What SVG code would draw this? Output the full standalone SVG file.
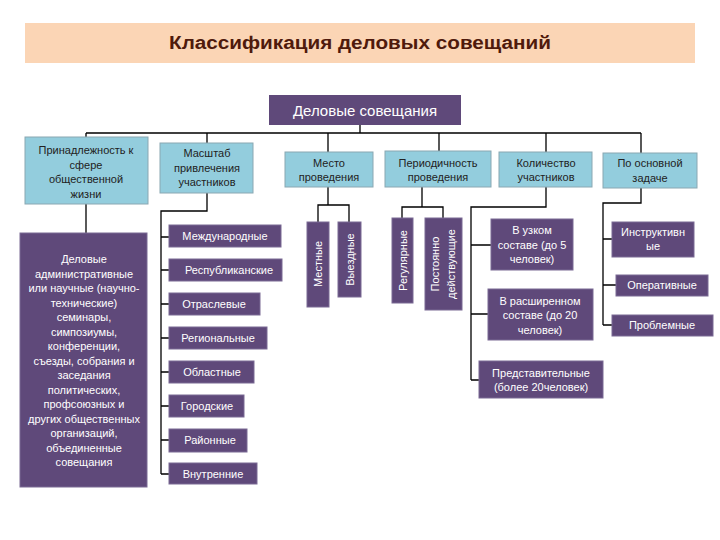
<svg xmlns="http://www.w3.org/2000/svg" width="720" height="540" viewBox="0 0 720 540">
<style>
.cat{fill:#93cddd;stroke:#8aa7b2;stroke-width:1}
.pur{fill:#5f497a;stroke:#7a6a94;stroke-width:1}
.ct{font-family:"Liberation Sans",Arial,sans-serif;font-size:11px;fill:#222;text-anchor:middle}
.pt{font-family:"Liberation Sans",Arial,sans-serif;font-size:11px;fill:#ffffff;text-anchor:middle}
.ln{stroke:#000;stroke-width:1.3;fill:none}
</style>
<rect width="720" height="540" fill="#ffffff"/>
<g id="title">
<rect x="25" y="23" width="670" height="40" fill="#fbd5b5"/>
<text x="360" y="49" font-family="Liberation Sans,Arial,sans-serif" font-size="18" font-weight="bold" fill="#4f1a0c" text-anchor="middle" textLength="382" lengthAdjust="spacingAndGlyphs">Классификация деловых совещаний</text>
</g>
<g id="connectors">
<path class="ln" d="M360 125V133M86 133H641M86 133V137M207 133V143M328 133V152M439 133V151M546 133V152M641 133V153"/>
<path class="ln" d="M86 204V233"/>
<path class="ln" d="M207 193V211H161V474M161 237H169M161 270H169M161 304H169M161 338H169M161 372H169M161 406H169M161 440H169M161 474H169"/>
<path class="ln" d="M328 187V205M318 222V205H349V222"/>
<path class="ln" d="M422 187V207M402 218V207H443V218"/>
<path class="ln" d="M546 187V207H471V380M471 245H491M471 314H488M471 380H479"/>
<path class="ln" d="M641 188V203H603V325M603 239H612M603 285H616M603 325H612"/>
</g>
<g id="root">
<rect x="269" y="95" width="192" height="30" fill="#5f497a"/>
<text x="365" y="116" font-family="Liberation Sans,Arial,sans-serif" font-size="15" fill="#ffffff" text-anchor="middle">Деловые совещания</text>
</g>
<g id="cat1">
<rect class="cat" x="25" y="137" width="123" height="67"/>
<text class="ct" x="86" y="154">Принадлежность к</text>
<text class="ct" x="86" y="168.5">сфере</text>
<text class="ct" x="86" y="183">общественной</text>
<text class="ct" x="86" y="197.5">жизни</text>
</g>
<g id="cat2">
<rect class="cat" x="160" y="143" width="93" height="50"/>
<text class="ct" x="207" y="157">Масштаб</text>
<text class="ct" x="207" y="171.5">привлечения</text>
<text class="ct" x="207" y="186">участников</text>
</g>
<g id="cat3">
<rect class="cat" x="285" y="152" width="88" height="35"/>
<text class="ct" x="329" y="167">Место</text>
<text class="ct" x="329" y="181">проведения</text>
</g>
<g id="cat4">
<rect class="cat" x="385" y="151" width="106" height="36"/>
<text class="ct" x="438" y="167">Периодичность</text>
<text class="ct" x="438" y="181">проведения</text>
</g>
<g id="cat5">
<rect class="cat" x="499" y="152" width="93" height="35"/>
<text class="ct" x="546" y="167">Количество</text>
<text class="ct" x="546" y="181">участников</text>
</g>
<g id="cat6">
<rect class="cat" x="603" y="153" width="94" height="35"/>
<text class="ct" x="650" y="167">По основной</text>
<text class="ct" x="650" y="182">задаче</text>
</g>
<g id="spheres">
<rect class="pur" x="20" y="233" width="127" height="254"/>
<g class="pt">
<text x="84" y="263">Деловые</text>
<text x="84" y="277.5">административные</text>
<text x="84" y="292">или научные (научно-</text>
<text x="84" y="306.5">технические)</text>
<text x="84" y="321">семинары,</text>
<text x="84" y="335.5">симпозиумы,</text>
<text x="84" y="350">конференции,</text>
<text x="84" y="364.5">съезды, собрания и</text>
<text x="84" y="379">заседания</text>
<text x="84" y="393.5">политических,</text>
<text x="84" y="408">профсоюзных и</text>
<text x="84" y="422.5">других общественных</text>
<text x="84" y="437">организаций,</text>
<text x="84" y="451.5">объединенные</text>
<text x="84" y="466">совещания</text>
</g>
</g>
<g id="s1"><rect class="pur" x="169" y="225" width="112" height="22"/><text class="pt" x="225" y="240">Международные</text></g>
<g id="s2"><rect class="pur" x="169" y="259" width="113" height="22"/><text class="pt" x="229" y="274">Республиканские</text></g>
<g id="s3"><rect class="pur" x="169" y="293" width="91" height="22"/><text class="pt" x="214" y="308">Отраслевые</text></g>
<g id="s4"><rect class="pur" x="169" y="327" width="98" height="22"/><text class="pt" x="218" y="342">Региональные</text></g>
<g id="s5"><rect class="pur" x="169" y="361" width="85" height="22"/><text class="pt" x="212" y="376">Областные</text></g>
<g id="s6"><rect class="pur" x="169" y="395" width="75" height="22"/><text class="pt" x="207" y="410">Городские</text></g>
<g id="s7"><rect class="pur" x="169" y="429" width="78" height="23"/><text class="pt" x="210" y="444">Районные</text></g>
<g id="s8"><rect class="pur" x="169" y="463" width="88" height="21"/><text class="pt" x="213" y="478">Внутренние</text></g>
<g id="m1"><rect class="pur" x="307" y="222" width="22" height="85"/><text class="pt" transform="translate(322 264) rotate(-90)">Местные</text></g>
<g id="m2"><rect class="pur" x="338" y="222" width="23" height="75"/><text class="pt" transform="translate(353.5 259.5) rotate(-90)">Выездные</text></g>
<g id="p1"><rect class="pur" x="392" y="218" width="21" height="85"/><text class="pt" transform="translate(406.5 260.5) rotate(-90)">Регулярные</text></g>
<g id="p2"><rect class="pur" x="425" y="218" width="37" height="92"/><text class="pt" transform="translate(439 264) rotate(-90)">Постоянно</text><text class="pt" transform="translate(455 264) rotate(-90)">действующие</text></g>
<g id="k1"><rect class="pur" x="491" y="219" width="82" height="51"/>
<text class="pt" x="532" y="234">В узком</text><text class="pt" x="532" y="249">составе (до 5</text><text class="pt" x="532" y="263">человек)</text></g>
<g id="k2"><rect class="pur" x="488" y="289" width="105" height="51"/>
<text class="pt" x="540" y="305">В расширенном</text><text class="pt" x="540" y="319">составе (до 20</text><text class="pt" x="540" y="334">человек)</text></g>
<g id="k3"><rect class="pur" x="479" y="361" width="124" height="37"/>
<text class="pt" x="541" y="377">Представительные</text><text class="pt" x="541" y="391">(более 20человек)</text></g>
<g id="z1"><rect class="pur" x="612" y="222" width="82" height="35"/>
<text class="pt" x="653" y="236">Инструктивн</text><text class="pt" x="653" y="250">ые</text></g>
<g id="z2"><rect class="pur" x="616" y="275" width="92" height="21"/><text class="pt" x="662" y="289">Оперативные</text></g>
<g id="z3"><rect class="pur" x="612" y="315" width="101" height="21"/><text class="pt" x="662" y="329">Проблемные</text></g>
</svg>
